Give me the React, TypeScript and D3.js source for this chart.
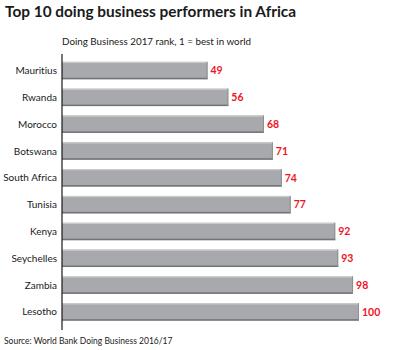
import React from "react";
import * as d3 from "d3";

const countries = ["Mauritius", "Rwanda", "Morocco", "Botswana", "South Africa", "Tunisia", "Kenya", "Seychelles", "Zambia", "Lesotho"];
const ranks = [49, 56, 68, 71, 74, 77, 92, 93, 98, 100];
const title = "Top 10 doing business performers in Africa";
const subtitle = "Doing Business 2017 rank, 1 = best in world";
const source = "Source: World Bank Doing Business 2016/17";

const W = 400, H = 350;
const FONT = "Lato, 'Open Sans', sans-serif";

export default function App() {
  const x = d3.scaleLinear().domain([0, 100]).range([62, 359]);
  const y = d3.scaleBand<string>().domain(countries).range([57, 325.5]).paddingInner(0.35).paddingOuter(0.18);
  const bh = y.bandwidth();
  return (
    <svg width={W} height={H} style={{ position: "absolute", left: 0, top: 0, background: "#fff", fontVariantLigatures: "none" }} fontFamily={FONT}>
      <text x={5} y={17} fontSize={15.4} fontWeight="bold" fill="#1a1a1a">{title}</text>
      <text x={62} y={45} fontSize={9.8} fill="#1a1a1a">{subtitle}</text>
      {countries.map((c, i) => {
        const y0 = y(c)!;
        const x1 = x(ranks[i]);
        return (
          <g key={c}>
            <rect x={x(0)} y={y0} width={x1 - x(0)} height={bh} fill="#a8a9ac" />
            <rect x={x(0)} y={y0} width={x1 - x(0)} height={1.2} fill="#c9cacc" />
            <rect x={x(0)} y={y0 + bh - 1.5} width={x1 - x(0)} height={1.5} fill="#737477" />
            <rect x={x1 - 1} y={y0} width={1} height={bh} fill="#8d8e91" />
            <text x={57} y={y0 + bh / 2} dy="0.35em" textAnchor="end" fontSize={10} fill="#1a1a1a">{c}</text>
            <text x={x1 + 3} y={y0 + bh / 2} dy="0.35em" fontSize={10.5} fontWeight="bold" fill="#f0141e">{ranks[i]}</text>
          </g>
        );
      })}
      <line x1={62} x2={62} y1={54} y2={330} stroke="#1a1a1a" strokeWidth={1.2} />
      <text x={4} y={344} fontSize={8.5} fill="#1a1a1a">{source}</text>
    </svg>
  );
}
